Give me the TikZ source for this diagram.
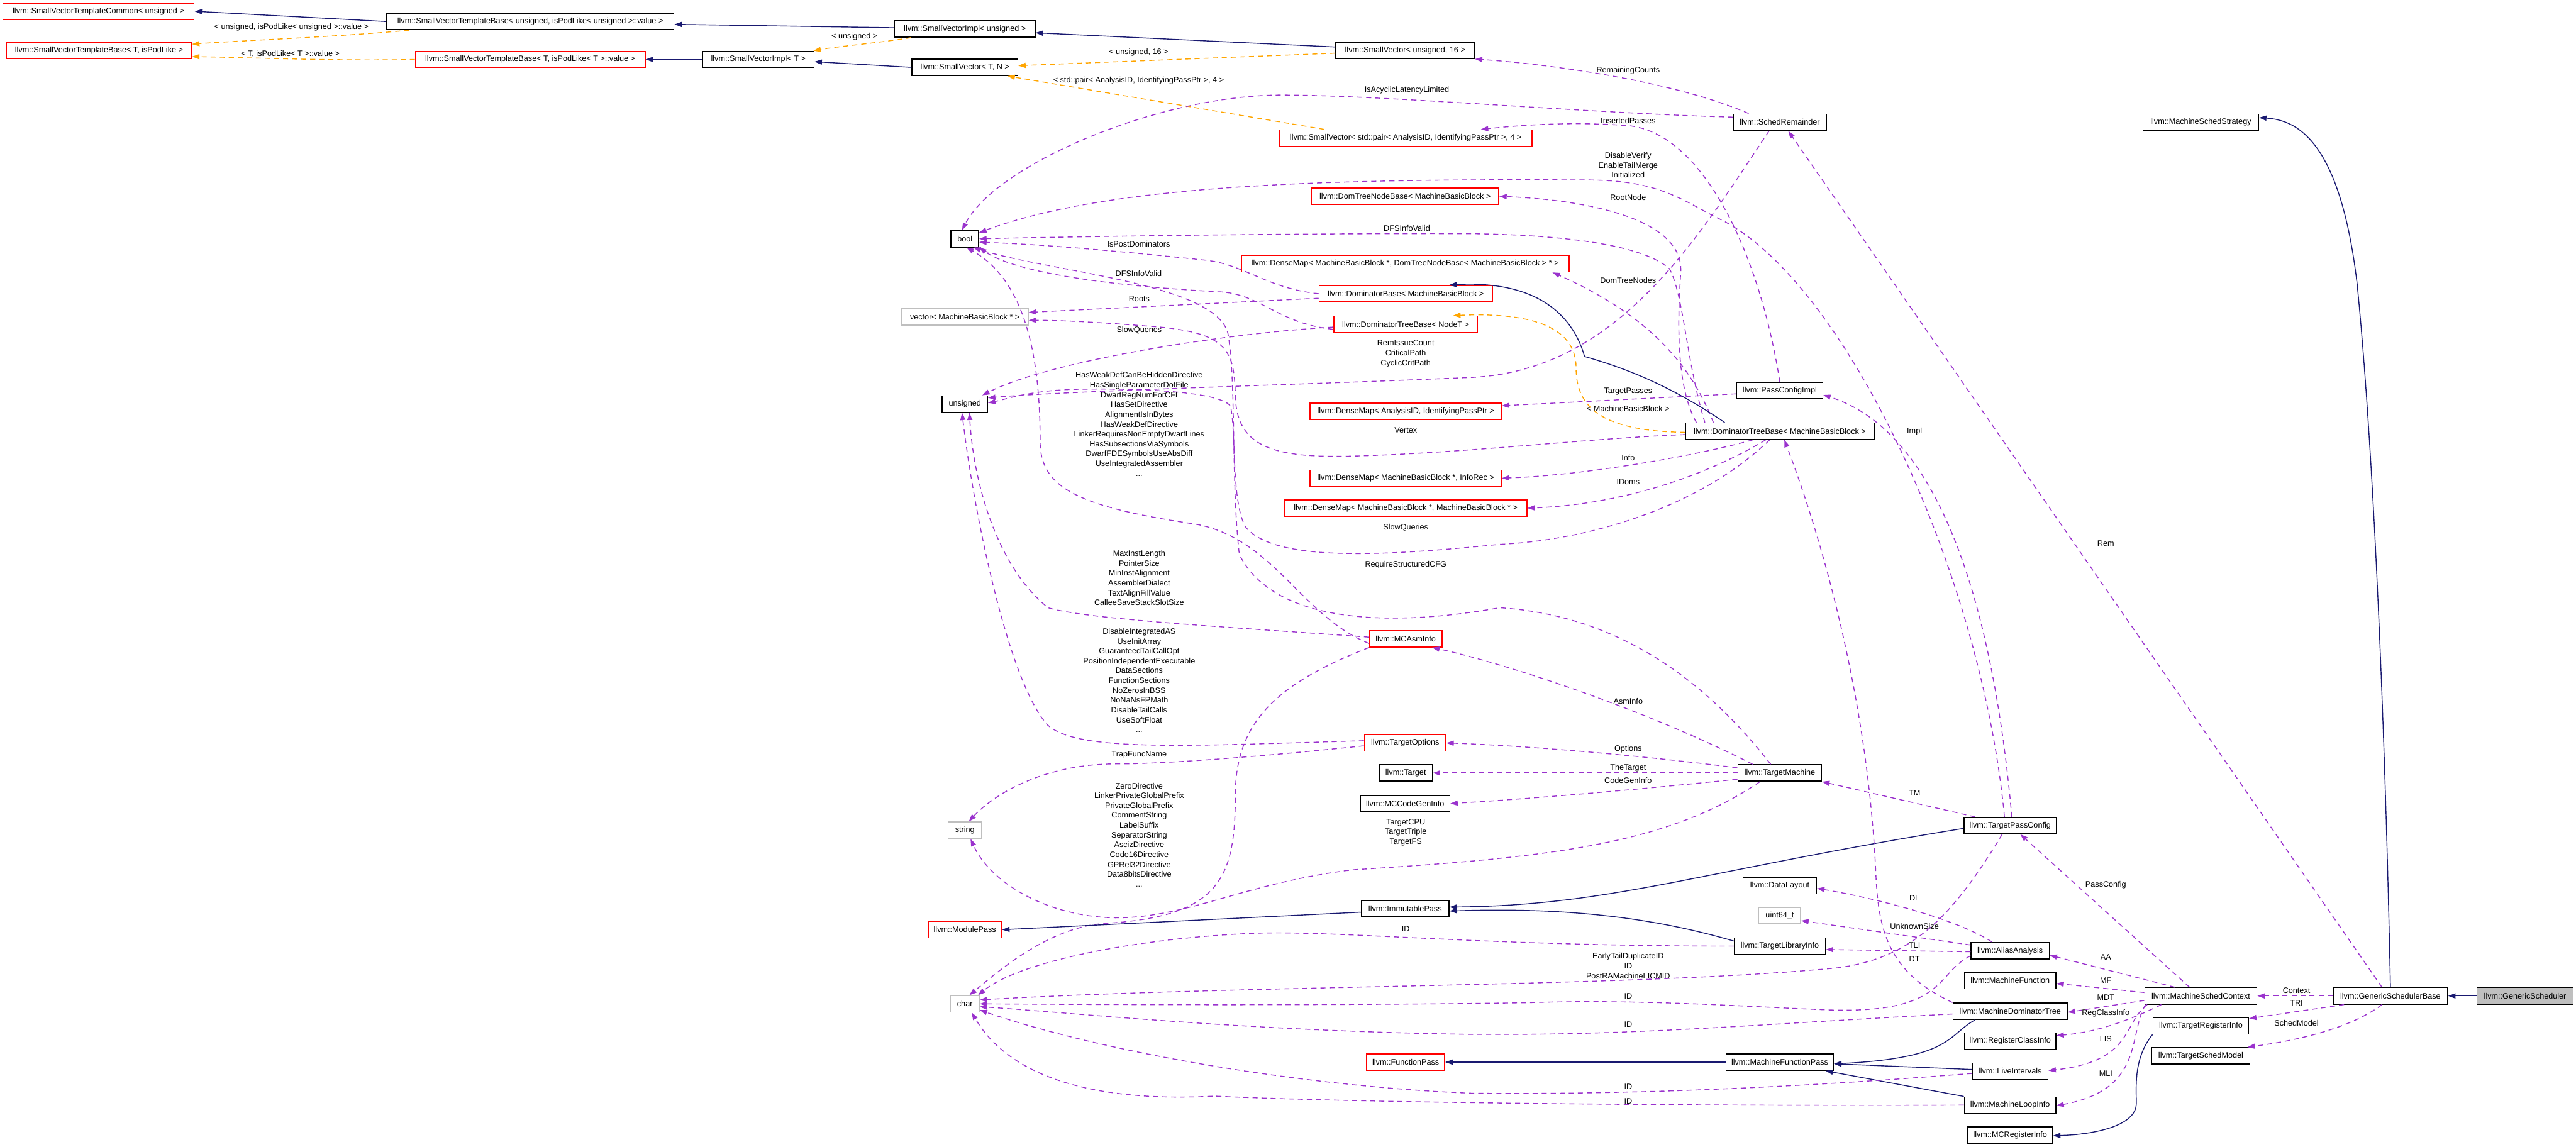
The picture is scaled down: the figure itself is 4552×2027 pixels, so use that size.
\documentclass[tikz,border=0pt]{standalone}
\usepackage{fontspec}
\usetikzlibrary{arrows.meta}
\newfontfamily\doxfont{Liberation Sans}
\newcommand\dxf{\doxfont\fontsize{4}{4.95}\selectfont}
\definecolor{dpurple}{HTML}{9A32CD}
\definecolor{dnavy}{HTML}{191970}
\definecolor{dorange}{HTML}{FFA500}
\definecolor{dred}{HTML}{FF0000}
\definecolor{dgray}{HTML}{BFBFBF}
\tikzset{
  box/.style={draw=black, line width=0.5pt, fill=white, minimum height=2.9mm, inner sep=0pt, font=\dxf},
  redbox/.style={box, draw=dred},
  graybox/.style={box, draw=dgray},
  lab/.style={inner sep=0pt, align=center, font=\dxf},
  dep/.style={draw=dpurple, line width=0.45pt, dash pattern=on 0.9mm off 0.7mm, -{Triangle[length=1.3mm,width=0.9mm]}},
  tmpl/.style={draw=dorange, line width=0.45pt, dash pattern=on 0.9mm off 0.7mm, -{Triangle[length=1.3mm,width=0.9mm]}},
  inh/.style={draw=dnavy, line width=0.45pt, -{Triangle[length=1.3mm,width=0.9mm]}}
}
\begin{document}
\begin{tikzpicture}[x=0.1mm,y=-0.1mm]
\useasboundingbox (0,0) rectangle (4552,2027);
\fill[white] (0,0) rectangle (4552,2027);

% ---------- nodes ----------
\node[redbox, minimum width=33.8mm] (Common) at (174,20) {llvm::SmallVectorTemplateCommon< unsigned >};
\node[box, minimum width=50.8mm] (TBu) at (937,38) {llvm::SmallVectorTemplateBase< unsigned, isPodLike< unsigned >::value >};
\node[redbox, minimum width=32.7mm] (TBT) at (175,89) {llvm::SmallVectorTemplateBase< T, isPodLike >};
\node[redbox, minimum width=40.6mm] (TBTv) at (937,105) {llvm::SmallVectorTemplateBase< T, isPodLike< T >::value >};
\node[box, minimum width=19.7mm] (SVImplT) at (1340,105) {llvm::SmallVectorImpl< T >};
\node[box, minimum width=24.8mm] (SVImplu) at (1705,51) {llvm::SmallVectorImpl< unsigned >};
\node[box, minimum width=24.5mm] (SV16) at (2483,89) {llvm::SmallVector< unsigned, 16 >};
\node[box, minimum width=18.7mm] (SVTN) at (1705,119) {llvm::SmallVector< T, N >};
\node[redbox, minimum width=44.6mm] (SVpair) at (2484,244) {llvm::SmallVector< std::pair< AnalysisID, IdentifyingPassPtr >, 4 >};
\node[box, minimum width=16.4mm] (SchedRem) at (3145,216) {llvm::SchedRemainder};
\node[box, minimum width=20.4mm] (MSS) at (3889,216) {llvm::MachineSchedStrategy};
\node[redbox, minimum width=33.1mm] (DTNB) at (2483,347) {llvm::DomTreeNodeBase< MachineBasicBlock >};
\node[box, minimum width=4.9mm] (bool) at (1705,422) {bool};
\node[redbox, minimum width=57.9mm] (DMDT) at (2483,466) {llvm::DenseMap< MachineBasicBlock *, DomTreeNodeBase< MachineBasicBlock > * >};
\node[redbox, minimum width=30.6mm] (DomBase) at (2484,519) {llvm::DominatorBase< MachineBasicBlock >};
\node[redbox, minimum width=25.4mm] (DTBN) at (2484,573) {llvm::DominatorTreeBase< NodeT >};
\node[graybox, minimum width=22.4mm] (vecMBB) at (1705,560) {vector< MachineBasicBlock * >};
\node[box, minimum width=8.0mm] (unsig) at (1705,714) {unsigned};
\node[redbox, minimum width=33.8mm] (DMAID) at (2484,727) {llvm::DenseMap< AnalysisID, IdentifyingPassPtr >};
\node[redbox, minimum width=33.8mm] (DMInfo) at (2484,845) {llvm::DenseMap< MachineBasicBlock *, InfoRec >};
\node[redbox, minimum width=42.8mm] (DMMBB) at (2484,898) {llvm::DenseMap< MachineBasicBlock *, MachineBasicBlock * >};
\node[box, minimum width=15.2mm] (PCImpl) at (3145,690) {llvm::PassConfigImpl};
\node[box, minimum width=33.3mm] (DTBM) at (3145,762) {llvm::DominatorTreeBase< MachineBasicBlock >};
\node[redbox, minimum width=12.8mm] (MCAsm) at (2484,1129) {llvm::MCAsmInfo};
\node[redbox, minimum width=14.4mm] (TOpt) at (2483,1313) {llvm::TargetOptions};
\node[box, minimum width=9.4mm] (Tgt) at (2484,1366) {llvm::Target};
\node[box, minimum width=15.8mm] (MCCG) at (2483,1420) {llvm::MCCodeGenInfo};
\node[graybox, minimum width=5.9mm] (str) at (1705,1467) {string};
\node[box, minimum width=15.5mm] (ImmP) at (2483,1606) {llvm::ImmutablePass};
\node[redbox, minimum width=13.0mm] (ModP) at (1705,1643) {llvm::ModulePass};
\node[graybox, minimum width=5.1mm] (chr) at (1705,1774) {char};
\node[redbox, minimum width=13.8mm] (FunP) at (2484,1877) {llvm::FunctionPass};
\node[box, minimum width=14.8mm] (TM) at (3145,1366) {llvm::TargetMachine};
\node[box, minimum width=16.3mm] (TPC) at (3552,1459) {llvm::TargetPassConfig};
\node[box, minimum width=13.0mm] (DL) at (3145,1565) {llvm::DataLayout};
\node[graybox, minimum width=7.4mm] (u64) at (3145,1618) {uint64\_t};
\node[box, minimum width=16.1mm] (TLI) at (3145,1672) {llvm::TargetLibraryInfo};
\node[box, minimum width=19.0mm] (MFP) at (3145,1877) {llvm::MachineFunctionPass};
\node[box, minimum width=13.8mm] (AA) at (3552,1680) {llvm::AliasAnalysis};
\node[box, minimum width=16.2mm] (MF) at (3552,1733) {llvm::MachineFunction};
\node[box, minimum width=20.2mm] (MDT) at (3552,1787) {llvm::MachineDominatorTree};
\node[box, minimum width=16.2mm] (RCI) at (3552,1840) {llvm::RegisterClassInfo};
\node[box, minimum width=13.4mm] (LI) at (3552,1893) {llvm::LiveIntervals};
\node[box, minimum width=16.2mm] (MLI) at (3552,1953) {llvm::MachineLoopInfo};
\node[box, minimum width=15.0mm] (MCRI) at (3552,2006) {llvm::MCRegisterInfo};
\node[box, minimum width=19.8mm] (MSC) at (3889,1760) {llvm::MachineSchedContext};
\node[box, minimum width=16.9mm] (TRI) at (3889,1813) {llvm::TargetRegisterInfo};
\node[box, minimum width=17.3mm] (TSM) at (3889,1866) {llvm::TargetSchedModel};
\node[box, minimum width=20.2mm] (GSB) at (4224,1760) {llvm::GenericSchedulerBase};
\node[box, fill=dgray, minimum width=17.0mm] (GS) at (4462,1760) {llvm::GenericScheduler};

% ---------- labels ----------
\node[lab] (l1) at (515,48) {< unsigned, isPodLike< unsigned >::value >};
\node[lab] (l2) at (513,95) {< T, isPodLike< T >::value >};
\node[lab] (l3) at (1510,65) {< unsigned >};
\node[lab] (l4) at (2012,93) {< unsigned, 16 >};
\node[lab] (l5) at (2012,143) {< std::pair< AnalysisID, IdentifyingPassPtr >, 4 >};
\node[lab] (l6) at (2877,125) {RemainingCounts};
\node[lab] (l7) at (2486,159) {IsAcyclicLatencyLimited};
\node[lab] (l8) at (2877,213) {InsertedPasses};
\node[lab] (l9) at (2877,292) {DisableVerify\\EnableTailMerge\\Initialized};
\node[lab] (l10) at (2877,349) {RootNode};
\node[lab] (l11) at (2486,403) {DFSInfoValid};
\node[lab] (l12) at (2012,431) {IsPostDominators};
\node[lab] (l13) at (2012,483) {DFSInfoValid};
\node[lab] (l14) at (2877,496) {DomTreeNodes};
\node[lab] (l15) at (2013,528) {Roots};
\node[lab] (l16) at (2013,584) {SlowQueries};
\node[lab] (l17) at (2484,625) {RemIssueCount\\CriticalPath\\CyclicCritPath};
\node[lab] (l18) at (2013,749.5) {HasWeakDefCanBeHiddenDirective\\HasSingleParameterDotFile\\DwarfRegNumForCFI\\HasSetDirective\\AlignmentIsInBytes\\HasWeakDefDirective\\LinkerRequiresNonEmptyDwarfLines\\HasSubsectionsViaSymbols\\DwarfFDESymbolsUseAbsDiff\\UseIntegratedAssembler\\...};
\node[lab] (l19) at (2877,692) {TargetPasses};
\node[lab] (l20) at (2877,722) {< MachineBasicBlock >};
\node[lab] (l21) at (2484,760) {Vertex};
\node[lab] (l22) at (3383,763) {Impl};
\node[lab] (l23) at (2877,809) {Info};
\node[lab] (l24) at (2877,851) {IDoms};
\node[lab] (l25) at (2484,933) {SlowQueries};
\node[lab] (l26) at (3721,960) {Rem};
\node[lab] (l27) at (2013,1021.5) {MaxInstLength\\PointerSize\\MinInstAlignment\\AssemblerDialect\\TextAlignFillValue\\CalleeSaveStackSlotSize};
\node[lab] (l28) at (2484,998) {RequireStructuredCFG};
\node[lab] (l29) at (2013,1202.5) {DisableIntegratedAS\\UseInitArray\\GuaranteedTailCallOpt\\PositionIndependentExecutable\\DataSections\\FunctionSections\\NoZerosInBSS\\NoNaNsFPMath\\DisableTailCalls\\UseSoftFloat\\...};
\node[lab] (l30) at (2877,1239) {AsmInfo};
\node[lab] (l31) at (2877,1324) {Options};
\node[lab] (l32) at (2013,1334) {TrapFuncName};
\node[lab] (l33) at (2877,1357) {TheTarget};
\node[lab] (l34) at (2877,1379) {CodeGenInfo};
\node[lab] (l35) at (2013,1475.5) {ZeroDirective\\LinkerPrivateGlobalPrefix\\PrivateGlobalPrefix\\CommentString\\LabelSuffix\\SeparatorString\\AscizDirective\\Code16Directive\\GPRel32Directive\\Data8bitsDirective\\...};
\node[lab] (l36) at (3383,1401) {TM};
\node[lab] (l37) at (2484,1471) {TargetCPU\\TargetTriple\\TargetFS};
\node[lab] (l38) at (3721,1564) {PassConfig};
\node[lab] (l39) at (3383,1587) {DL};
\node[lab] (l40) at (3383,1637) {UnknownSize};
\node[lab] (l41) at (2484,1642) {ID};
\node[lab] (l42) at (3383,1671) {TLI};
\node[lab] (l43) at (2877,1707) {EarlyTailDuplicateID\\ID\\PostRAMachineLICMID};
\node[lab] (l44) at (3721,1692) {AA};
\node[lab] (l45) at (3383,1695) {DT};
\node[lab] (l46) at (3721,1733) {MF};
\node[lab] (l47) at (4058,1751) {Context};
\node[lab] (l48) at (2877,1761) {ID};
\node[lab] (l49) at (3721,1763) {MDT};
\node[lab] (l50) at (4058,1773) {TRI};
\node[lab] (l51) at (3721,1791) {RegClassInfo};
\node[lab] (l52) at (4058,1808) {SchedModel};
\node[lab] (l53) at (2877,1811) {ID};
\node[lab] (l54) at (3721,1836) {LIS};
\node[lab] (l55) at (3721,1897) {MLI};
\node[lab] (l56) at (2877,1921) {ID};
\node[lab] (l57) at (2877,1946) {ID};

% ---------- SmallVector family ----------
\draw[inh] (TBu.west) -- (Common.east);
\draw[tmpl] ([xshift=4.1mm]TBu.south west) .. controls (600,65) and (420,72) .. ([yshift=1.1mm]TBT.east);
\draw[tmpl] (TBTv.west) .. controls (600,108) and (450,102) .. ([yshift=-1.1mm]TBT.east);
\draw[inh] (SVImplT.west) -- (TBTv.east);
\draw[inh] ([yshift=0.2mm]SVImplu.west) -- ([yshift=-0.5mm]TBu.east);
\draw[tmpl] ([xshift=3mm]SVImplu.south west) .. controls (1560,75) and (1480,82) .. ([xshift=-0.2mm]SVImplT.north east);
\draw[inh] (SVTN.west) -- ([yshift=-0.4mm]SVImplT.east);
\draw[inh] ([yshift=0.6mm]SV16.west) -- ([yshift=-0.7mm]SVImplu.east);
\draw[tmpl] ([yshift=-0.5mm]SV16.west) -- ([yshift=0.3mm]SVTN.east);
\draw[tmpl] ([xshift=8mm]SVpair.north west) -- ([xshift=-1.9mm]SVTN.south east);

% ---------- SchedRemainder ----------
\draw[dep] ([xshift=-5.5mm]SchedRem.north) .. controls (2950,140) and (2720,112) .. (SV16.south east);
\draw[dep] ([yshift=0.9mm]SchedRem.west) .. controls (2800,200) and (2450,168) .. (2264,168) .. controls (2050,168) and (1760,290) .. ([xshift=-0.5mm]bool.north);
\draw[dep] ([xshift=-1.9mm]SchedRem.south) .. controls (3000,420) and (2860,655) .. (2600,667) .. controls (2300,680) and (1900,690) .. ([yshift=1.1mm]unsig.east);

% ---------- PassConfigImpl ----------
\draw[dep] (PCImpl.north) .. controls (3110,450) and (3010,235) .. (2877,222) .. controls (2780,215) and (2700,220) .. ([xshift=-9.1mm]SVpair.north east);
\draw[dep] ([yshift=-0.6mm]PCImpl.west) -- ([yshift=1mm]DMAID.east);

% ---------- DominatorTreeBase<MBB> ----------
\draw[dep] ([xshift=2mm]DTBM.north west) .. controls (2960,680) and (2965,560) .. (2970,480) .. controls (2975,380) and (2780,352) .. (DTNB.east);
\draw[dep] ([xshift=3.5mm]DTBM.north west) .. controls (2980,640) and (2975,520) .. (2950,475) .. controls (2900,430) and (2750,415) .. (2600,413) .. controls (2300,412) and (1900,418) .. (bool.east);
\draw[dep] ([xshift=5mm]DTBM.north west) .. controls (2990,650) and (2920,560) .. ([xshift=-3mm]DMDT.south east);
\draw[inh] ([xshift=7mm]DTBM.north west) .. controls (2950,680) and (2870,650) .. (2800,630) .. controls (2780,560) and (2720,495) .. ([xshift=-7.7mm]DomBase.north east);
\draw[tmpl] ([yshift=-0.2mm]DTBM.west) .. controls (2830,762) and (2785,720) .. (2785,650) .. controls (2785,575) and (2700,552) .. ([xshift=-4.4mm]DTBN.north east);
\draw[dep] ([yshift=-0.6mm]DTBM.west) .. controls (2800,775) and (2600,800) .. (2392,806) .. controls (2250,810) and (2185,790) .. (2183,700) .. controls (2181,620) and (2170,590) .. (2050,578) .. controls (1950,570) and (1880,566) .. ([yshift=-0.6mm]vecMBB.east);
\draw[dep] ([xshift=-1.8mm]DTBM.south) .. controls (3000,900) and (2800,955) .. (2650,962) .. controls (2450,982) and (2250,995) .. (2200,930) .. controls (2175,880) and (2185,760) .. (2174,717) .. controls (2150,690) and (2000,686) .. (1901,688) .. controls (1820,690) and (1780,705) .. ([yshift=0.2mm]unsig.east);
\draw[dep] ([xshift=-4.8mm]DTBM.south) .. controls (3000,805) and (2800,840) .. (DMInfo.east);
\draw[dep] ([xshift=-2.5mm]DTBM.south) .. controls (3050,820) and (2900,890) .. (DMMBB.east);

% ---------- DominatorBase / DominatorTreeBase<NodeT> ----------
\draw[dep] (DomBase.west) .. controls (2240,510) and (2200,468) .. (2132,460) .. controls (2000,446) and (1850,432) .. ([yshift=-0.6mm]bool.east);
\draw[dep] ([yshift=-0.8mm]DomBase.west) -- ([yshift=0.8mm]vecMBB.east);
\draw[dep] ([yshift=-0.9mm]DTBN.west) .. controls (2260,572) and (2230,522) .. (2160,516) .. controls (1950,505) and (1790,480) .. (bool.south east);
\draw[dep] ([yshift=-0.5mm]DTBN.west) .. controls (2150,590) and (1850,640) .. ([xshift=-1mm]unsig.north east);

% ---------- TargetPassConfig ----------
\draw[dep] ([xshift=-1mm]TPC.north) .. controls (3500,1000) and (3250,480) .. (3030,383) .. controls (2960,345) and (2920,318) .. (2800,318) .. controls (2300,315) and (1950,330) .. ([yshift=1.1mm]bool.east);
\draw[dep] ([xshift=0.3mm]TPC.north) .. controls (3520,1050) and (3420,760) .. ([yshift=-0.8mm]PCImpl.east);
\draw[dep] ([xshift=-6.2mm]TPC.north) -- (TM.south east);
\draw[inh] ([yshift=-0.5mm]TPC.west) .. controls (3000,1540) and (2850,1600) .. ([yshift=0.3mm]ImmP.east);
\draw[dep] ([xshift=-1.4mm]TPC.south) .. controls (3450,1620) and (3380,1692) .. (3250,1710) .. controls (2900,1745) and (2200,1740) .. ([yshift=0.7mm]chr.east);

% ---------- TargetMachine ----------
\draw[dep] ([xshift=-4.8mm]TM.north) .. controls (2900,1250) and (2650,1170) .. ([xshift=-1.8mm]MCAsm.south east);
\draw[dep] ([xshift=-1.6mm]TM.north) .. controls (3050,1250) and (2900,1090) .. (2650,1074) .. controls (2450,1110) and (2250,1100) .. (2190,980) .. controls (2175,850) and (2185,680) .. (2170,590) .. controls (2150,500) and (1850,480) .. ([xshift=1.5mm]bool.south);
\draw[dep] ([yshift=0.9mm]TM.west) .. controls (2900,1335) and (2700,1318) .. (TOpt.east);
\draw[dep] (TM.west) -- (Tgt.east);
\draw[dep] ([yshift=-1.1mm]TM.west) .. controls (2900,1395) and (2700,1412) .. (MCCG.east);
\draw[dep] ([xshift=-3.5mm]TM.south) .. controls (2950,1490) and (2750,1515) .. (2392,1537) .. controls (2200,1560) and (2100,1622) .. (1971,1622) .. controls (1850,1620) and (1750,1560) .. ([xshift=1mm]str.south);

% ---------- MCAsmInfo ----------
\draw[dep] ([yshift=-0.8mm]MCAsm.west) .. controls (2300,1090) and (2250,950) .. (2111,926) .. controls (1900,895) and (1838,860) .. (1838,780) .. controls (1838,600) and (1800,490) .. ([xshift=0.3mm]bool.south);
\draw[dep] ([yshift=0.3mm]MCAsm.west) .. controls (2200,1110) and (1920,1095) .. (1852,1074) .. controls (1760,1000) and (1720,850) .. ([xshift=0.8mm]unsig.south);
\draw[dep] (MCAsm.south west) .. controls (2250,1210) and (2185,1280) .. (2183,1400) .. controls (2183,1550) and (2160,1620) .. (1950,1632) .. controls (1850,1640) and (1760,1720) .. ([xshift=0.8mm]chr.north);

% ---------- TargetOptions ----------
\draw[dep] ([yshift=0.4mm]TOpt.west) .. controls (2100,1318) and (1900,1330) .. (1850,1280) .. controls (1780,1200) and (1720,900) .. ([xshift=-0.5mm]unsig.south);
\draw[dep] ([yshift=-0.5mm]TOpt.west) .. controls (2200,1340) and (2050,1350) .. (1971,1350) .. controls (1850,1350) and (1760,1400) .. ([xshift=0.7mm]str.north);

% ---------- passes ----------
\draw[inh] ([yshift=-0.6mm]ImmP.west) -- (ModP.east);
\draw[inh] ([yshift=0.9mm]TLI.west) .. controls (2950,1630) and (2800,1602) .. ([yshift=-0.4mm]ImmP.east);
\draw[dep] (TLI.west) .. controls (2600,1672) and (2350,1642) .. (2200,1650) .. controls (2000,1660) and (1800,1700) .. ([xshift=-0.3mm]chr.north east);
\draw[inh] (MFP.west) -- (FunP.east);
\draw[inh] ([xshift=4mm]MDT.south west) .. controls (3440,1830) and (3450,1870) .. ([yshift=-0.3mm]MFP.east);
\draw[inh] ([yshift=0.3mm]LI.west) -- ([yshift=-0.3mm]MFP.east);
\draw[inh] (MLI.north west) -- ([xshift=-1.5mm]MFP.south east);

% ---------- AliasAnalysis ----------
\draw[dep] ([xshift=-3.2mm]AA.north) .. controls (3450,1620) and (3300,1585) .. ([yshift=-0.5mm]DL.east);
\draw[dep] ([yshift=1mm]AA.west) -- ([yshift=-0.9mm]u64.east);
\draw[dep] ([yshift=-0.2mm]AA.west) -- ([yshift=-0.6mm]TLI.east);
\draw[dep] ([yshift=-0.9mm]AA.west) .. controls (3420,1720) and (3440,1790) .. (3238,1785) .. controls (3100,1780) and (2900,1765) .. (2700,1772) .. controls (2300,1778) and (1900,1775) .. (chr.east);

% ---------- MachineDominatorTree / LiveIntervals / MachineLoopInfo ----------
\draw[dep] (MDT.north west) .. controls (3340,1720) and (3320,1650) .. (3315,1550) .. controls (3300,1200) and (3200,900) .. ([xshift=0.8mm]DTBM.south);
\draw[dep] ([yshift=-0.5mm]MDT.west) .. controls (3100,1810) and (2900,1830) .. (2600,1828) .. controls (2200,1822) and (1900,1790) .. ([yshift=-0.5mm]chr.east);
\draw[dep] ([yshift=-0.4mm]LI.west) .. controls (3200,1920) and (2900,1935) .. (2600,1932) .. controls (2300,1920) and (1950,1860) .. ([yshift=-1.1mm]chr.east);
\draw[dep] (MLI.west) .. controls (3100,1955) and (2400,1950) .. (2146,1937) .. controls (2000,1945) and (1800,1930) .. ([xshift=1.2mm]chr.south);

% ---------- MachineSchedContext ----------
\draw[dep] ([xshift=-2mm]MSC.north) -- ([xshift=1.8mm]TPC.south);
\draw[dep] ([xshift=-4.6mm]MSC.north) -- ([yshift=-0.8mm]AA.east);
\draw[dep] ([yshift=0.6mm]MSC.west) -- ([yshift=-0.5mm]MF.east);
\draw[dep] ([yshift=-0.8mm]MSC.west) -- ([yshift=-0.2mm]MDT.east);
\draw[dep] ([xshift=3mm]MSC.south west) .. controls (3760,1805) and (3700,1825) .. ([yshift=1mm]RCI.east);
\draw[dep] ([xshift=0.5mm]MSC.south west) .. controls (3750,1810) and (3770,1875) .. ([yshift=0.1mm]LI.east);
\draw[dep] ([xshift=0.2mm]MSC.south west) .. controls (3760,1830) and (3790,1925) .. ([yshift=-0.1mm]MLI.east);

% ---------- GenericSchedulerBase ----------
\draw[dep] (GSB.west) -- (MSC.east);
\draw[dep] ([xshift=2mm]GSB.south west) -- ([yshift=1.3mm]TRI.east);
\draw[dep] ([xshift=-1.5mm]GSB.south) .. controls (4150,1820) and (4050,1840) .. ([xshift=-0.5mm]TSM.north east);
\draw[dep] ([xshift=-1.5mm]GSB.north) -- ([xshift=1.5mm]SchedRem.south);
\draw[inh] (GSB.north) .. controls (4215,1300) and (4195,800) .. (4165,500) .. controls (4135,250) and (4060,212) .. ([yshift=0.8mm]MSS.east);
\draw[inh] (GS.west) -- (GSB.east);
\draw[inh] (TRI.south west) .. controls (3770,1870) and (3775,1920) .. (3775,1950) .. controls (3775,1990) and (3700,2005) .. ([yshift=-0.1mm]MCRI.east);
\end{tikzpicture}
\end{document}
